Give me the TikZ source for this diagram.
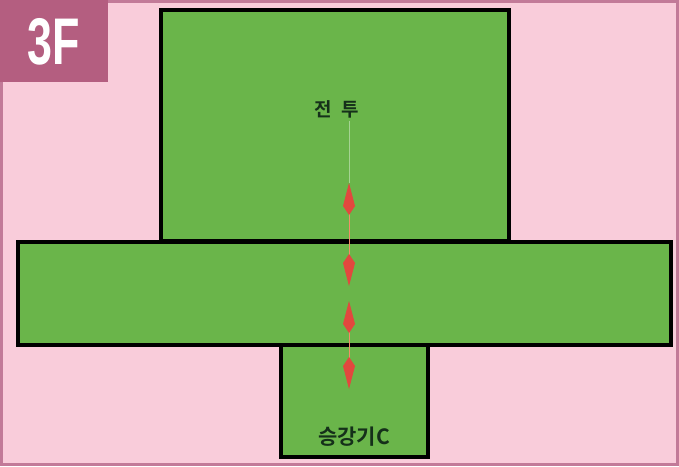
\documentclass[tikz,border=0pt]{standalone}
\usepackage{fontspec}
\newfontfamily\kor{Noto Sans CJK KR}[BoldFont={Noto Sans CJK KR Bold}]
\newfontfamily\lab{Liberation Sans}
\usetikzlibrary{arrows.meta}
\definecolor{bgpink}{HTML}{F9CCDA}
\definecolor{frame}{HTML}{C27A98}
\definecolor{tagc}{HTML}{B45E80}
\definecolor{roomg}{HTML}{6AB54A}
\definecolor{arr}{HTML}{E2483E}
\definecolor{txtg}{HTML}{15301A}
\tikzset{
  room/.style={draw=black, line width=3.6pt, fill=roomg, inner sep=0pt, anchor=north west},
  dbl/.style={draw=arr!60!orange!70!white, line width=1pt, {Kite[length=32pt,width=12pt,inset=9pt,fill=arr,color=arr]}-{Kite[length=32pt,width=12pt,inset=9pt,fill=arr,color=arr]}},
}
\begin{document}
\begin{tikzpicture}[x=1pt,y=-1pt]
\useasboundingbox (0,0) rectangle (679,466);
\fill[bgpink] (0,0) rectangle (679,466);
\draw[frame, line width=3pt] (1.5,1.5) rectangle (677.5,464.5);
\fill[tagc] (0,0) rectangle (108,82);
\node (tag) at (54,42) {\lab\bfseries\fontsize{66}{66}\selectfont\scalebox{0.68}[1]{\textcolor{white}{3F}}};
\node[room, minimum width=348pt, minimum height=231pt] (top) at (159,8) {};
\node[room, minimum width=653pt, minimum height=103pt] (mid) at (16,240) {};
\node[room, minimum width=147pt, minimum height=112pt] (bot) at (279,343) {};
\node[text=txtg, font=\kor\bfseries\fontsize{19}{19}\selectfont] (jt) at (337,109) {전\,\,\,투};
\node[text=txtg, font=\kor\bfseries\fontsize{21}{21}\selectfont, anchor=center] (elev) at (354,437) {승강기C};
\coordinate (a1) at (349,183);
\coordinate (a2) at (349,286);
\coordinate (a3) at (349,301);
\coordinate (a4) at (349,389);
\draw[roomg!60!white, line width=0.8pt] (jt.south -| a1) -- (a1);
\draw[dbl] (a1) -- (a2);
\draw[dbl] (a3) -- (a4);
\end{tikzpicture}
\end{document}
